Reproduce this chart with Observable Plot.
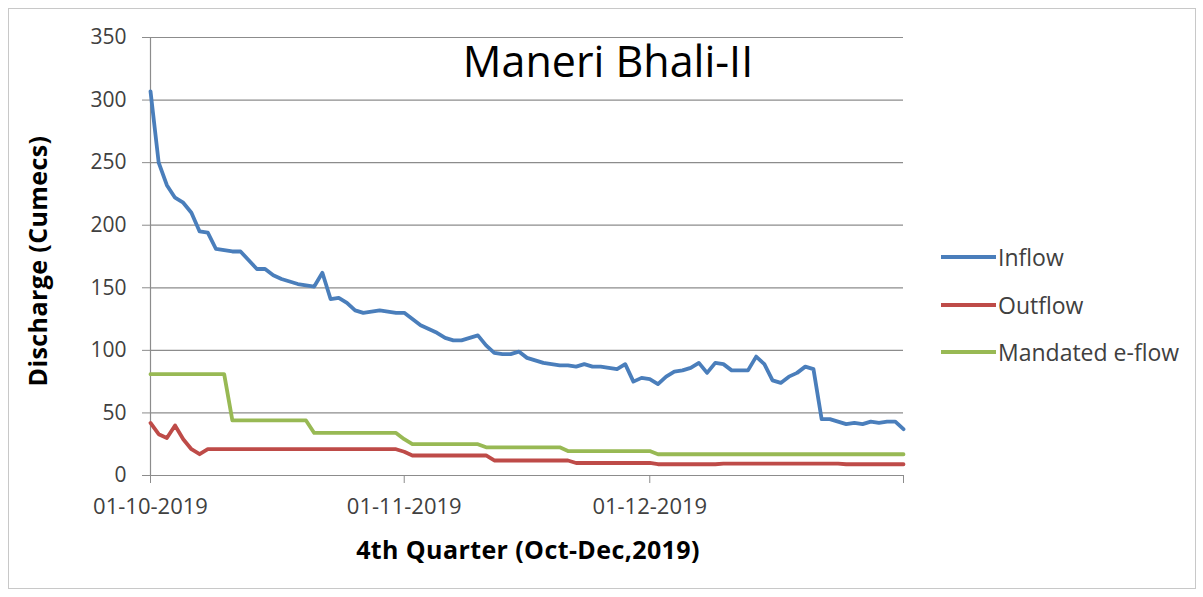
<!DOCTYPE html>
<html>
<head>
<meta charset="utf-8">
<script src="https://cdn.jsdelivr.net/npm/d3@7"></script>
<script src="https://cdn.jsdelivr.net/npm/@observablehq/plot@0.6"></script>
<style>
  html, body { margin: 0; padding: 0; background: #fff; }
  #wrap { position: relative; width: 1203px; height: 597px; overflow: hidden; font-family: "Open Sans", sans-serif; color: #404040; }
  #border { position: absolute; left: 8px; top: 8px; width: 1188px; height: 581px; border: 1px solid #c8c8c8; box-sizing: border-box; }
  .t { position: absolute; white-space: nowrap; line-height: 1; transform: translate(-50%, -50%); }
  .lg { position: absolute; white-space: nowrap; line-height: 1; transform: translateY(-50%); font-size: 23px; }
  .sw { position: absolute; height: 4px; width: 55px; transform: translateY(-50%); }
  #chart { position: absolute; left: 0; top: 0; }
</style>
</head>
<body>
<div id="wrap">
  <div id="border"></div>
  <div id="chart"></div>
</div>
<script>
// ---- data ----
const startDate = "2019-10-01";
const inflow = [307,250,232,222,218,210,195,194,181,180,179,179,172,165,165,160,157,155,153,152,151,162,141,142,138,132,130,131,132,131,130,130,125,120,117,114,110,108,108,110,112,104,98,97,97,99,94,92,90,89,88,88,87,89,87,87,86,85,89,75,78,77,73,79,83,84,86,90,82,90,89,84,84,84,95,89,76,74,79,82,87,85,45,45,43,41,42,41,43,42,43,43,37];
const outflow = [42,33,30,40,29,21,17,21,21,21,21,21,21,21,21,21,21,21,21,21,21,21,21,21,21,21,21,21,21,21,21,19,16,16,16,16,16,16,16,16,16,16,12,12,12,12,12,12,12,12,12,12,10,10,10,10,10,10,10,10,10,10,9,9,9,9,9,9,9,9,9.5,9.5,9.5,9.5,9.5,9.5,9.5,9.5,9.5,9.5,9.5,9.5,9.5,9.5,9.5,9,9,9,9,9,9,9,9];
const eflow = [81,81,81,81,81,81,81,81,81,81,44,44,44,44,44,44,44,44,44,44,34,34,34,34,34,34,34,34,34,34,34,29,25,25,25,25,25,25,25,25,25,22.5,22.5,22.5,22.5,22.5,22.5,22.5,22.5,22.5,22.5,19.5,19.5,19.5,19.5,19.5,19.5,19.5,19.5,19.5,19.5,19.5,17,17,17,17,17,17,17,17,17,17,17,17,17,17,17,17,17,17,17,17,17,17,17,17,17,17,17,17,17,17,17];
const seriesNames = ["Inflow", "Outflow", "Mandated e-flow"];
const seriesColors = ["#4a7ebb", "#be4b48", "#98b954"];
const yTicks = [0, 50, 100, 150, 200, 250, 300, 350];
const xTickDates = ["2019-10-01", "2019-11-01", "2019-12-01", "2020-01-01"];
const xTickLabels = ["01-10-2019", "01-11-2019", "01-12-2019", ""];
const titleText = "Maneri Bhali-II";
const yLabel = "Discharge (Cumecs)";
const xLabel = "4th Quarter (Oct-Dec,2019)";

// ---- build table ----
const t0 = new Date(startDate + "T00:00:00Z");
const rows = [];
[inflow, outflow, eflow].forEach((arr, s) => {
  arr.forEach((v, i) => rows.push({date: d3.utcDay.offset(t0, i), value: v, series: seriesNames[s]}));
});
const tickDates = xTickDates.map(d => new Date(d + "T00:00:00Z"));
const labelFor = d => xTickLabels[tickDates.findIndex(t => +t === +d)] ?? "";

const plot = Plot.plot({
  width: 1203,
  height: 597,
  marginLeft: 150,
  marginRight: 300,
  marginTop: 37,
  marginBottom: 122,
  style: {fontFamily: "Open Sans, sans-serif", fontSize: "21px", color: "#404040", background: "transparent", overflow: "visible"},
  x: {type: "utc", domain: [tickDates[0], tickDates[3]]},
  y: {domain: [0, 350]},
  color: {domain: seriesNames, range: seriesColors},
  marks: [
    Plot.ruleY(yTicks, {stroke: "#8c8c8c", strokeWidth: 1.2}),
    Plot.ruleX([tickDates[0]], {stroke: "#8c8c8c", strokeWidth: 1.2}),
    Plot.axisY({ticks: yTicks, tickSize: 8, tickPadding: 16, stroke: "#8c8c8c", label: null, fill: "#404040", fontSize: 21}),
    Plot.axisX({ticks: tickDates, tickSize: 8, tickPadding: 15, tickFormat: labelFor, stroke: "#8c8c8c", label: null, fill: "#404040", fontSize: 22, letterSpacing: "0.3px"}),
    Plot.line(rows, {x: "date", y: "value", z: "series", stroke: "series", strokeWidth: 3.8, curve: "linear"})
  ]
});
document.getElementById("chart").appendChild(plot);

// ---- overlay texts and legend ----
const wrap = document.getElementById("wrap");
function addText(txt, x, y, css) {
  const d = document.createElement("div");
  d.className = "t";
  d.textContent = txt;
  d.style.left = x + "px";
  d.style.top = y + "px";
  Object.assign(d.style, css || {});
  wrap.appendChild(d);
  return d;
}
addText(titleText, 608, 60, {fontSize: "43px", color: "#000"});
addText(xLabel, 528, 549, {fontSize: "25px", fontWeight: "bold", color: "#000", letterSpacing: "0.4px"});
addText(yLabel, 37, 261, {fontSize: "25px", fontWeight: "bold", color: "#000", letterSpacing: "0.4px", transform: "translate(-50%, -50%) rotate(-90deg)"});

const legendY = [257, 305, 352];
seriesNames.forEach((name, i) => {
  const sw = document.createElement("div");
  sw.className = "sw";
  sw.style.left = "941px";
  sw.style.top = legendY[i] + "px";
  sw.style.background = seriesColors[i];
  wrap.appendChild(sw);
  const tx = document.createElement("div");
  tx.className = "lg";
  tx.style.left = "998px";
  tx.style.top = legendY[i] + "px";
  tx.textContent = name;
  wrap.appendChild(tx);
});
</script>
</body>
</html>
